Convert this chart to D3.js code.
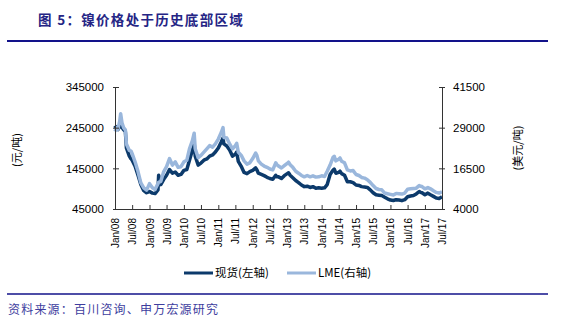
<!DOCTYPE html>
<html>
<head>
<meta charset="utf-8">
<script src="https://cdn.jsdelivr.net/npm/d3@7"></script>
<style>
  html, body { margin: 0; padding: 0; background: #fff; }
  svg { display: block; }
  .tick text { font-family: "Liberation Sans", Arial, sans-serif; fill: #000; }
</style>
</head>
<body>
<svg id="chart" width="571" height="332"></svg>
<script>
// Nickel: domestic spot price (CNY/t, left axis) and LME price (USD/t, right axis)
const dates = [
  "2008-01","2008-01-20","2008-02","2008-02-20","2008-03","2008-03-15","2008-04","2008-04-20","2008-05","2008-06",
  "2008-06-20","2008-07","2008-08","2008-09","2008-10","2008-11","2008-12","2009-01","2009-02","2009-03",
  "2009-04","2009-04-08","2009-05","2009-06","2009-07","2009-08","2009-09","2009-10","2009-11","2009-12",
  "2010-01","2010-02","2010-03","2010-04","2010-04-20","2010-05","2010-06","2010-07","2010-08","2010-09",
  "2010-10","2010-11","2010-12","2011-01","2011-02","2011-02-20","2011-03","2011-04","2011-05","2011-06",
  "2011-07","2011-07-15","2011-08","2011-09","2011-10","2011-11","2011-12","2012-01","2012-02","2012-02-15",
  "2012-03","2012-04","2012-05","2012-06","2012-07","2012-08","2012-09","2012-09-15","2012-10","2012-11",
  "2012-12","2013-01","2013-01-15","2013-02","2013-03","2013-04","2013-05","2013-06","2013-07","2013-08",
  "2013-09","2013-10","2013-11","2013-12","2014-01","2014-02","2014-03","2014-04","2014-05","2014-05-15",
  "2014-06","2014-07","2014-07-15","2014-08","2014-09","2014-10","2014-11","2014-12","2015-01","2015-02",
  "2015-03","2015-04","2015-05","2015-06","2015-07","2015-08","2015-09","2015-10","2015-11","2015-12",
  "2016-01","2016-02","2016-03","2016-04","2016-05","2016-06","2016-07","2016-08","2016-09","2016-10",
  "2016-11","2016-11-15","2016-12","2017-01","2017-02","2017-03","2017-04","2017-05","2017-06","2017-07"
];
const spotCny = [
  250000,242000,240000,248000,252000,246000,240000,235000,195000,175000,
  168000,165000,150000,128000,105000,90000,85000,88000,84000,83000,
  92000,128000,105000,118000,128000,142000,133000,136000,128000,130000,
  140000,142000,165000,190000,207000,175000,153000,158000,165000,168000,
  175000,178000,185000,195000,210000,220000,205000,200000,190000,175000,
  180000,185000,162000,150000,135000,132000,137000,140000,146000,141000,
  133000,130000,127000,123000,120000,118000,128000,124000,124000,120000,
  127000,132000,134000,128000,122000,115000,110000,104000,100000,101000,
  98000,100000,96000,97000,96000,97000,105000,130000,140000,143000,
  133000,135000,138000,132000,128000,112000,112000,110000,104000,103000,
  100000,99000,98000,92000,85000,80000,79000,78000,74000,70000,
  67000,66000,68000,67000,65500,68000,75000,77000,78000,82000,
  88000,86000,85000,80000,84000,80000,76000,72000,71000,75000
];
const lmeUsd = [
  27800,29000,28500,31000,33300,30500,29000,28300,24000,22000,
  21800,21000,18500,15500,12000,10500,9800,11800,10500,10000,
  11800,12200,12500,15500,17000,19500,17500,18500,16800,17000,
  18500,19000,22500,25000,27300,22500,19800,20500,21500,22500,
  23500,23000,24000,25500,27500,29000,26000,25800,24000,22500,
  23500,24200,21500,20500,18800,17800,18200,19500,21200,20400,
  18800,17800,17200,16800,16300,16000,18200,17600,17200,16600,
  17300,18000,18400,17600,16800,15600,15000,14300,13900,14300,
  13900,14200,13800,13900,14200,14000,15600,17500,19800,20200,
  18800,19300,19700,18700,18200,16000,15700,15800,14600,14300,
  13700,13500,13000,12200,11200,10300,10000,9900,8900,8700,
  8500,8300,8800,8700,8600,8900,10100,10200,10300,10400,
  11200,11000,10900,10200,10600,10200,9600,9100,8900,9300
];
const leftTicks = [45000, 145000, 245000, 345000];
const rightTicks = [4000, 16500, 29000, 41500];
const seriesNames = ["现货(左轴)", "LME(右轴)"];
const titleText = "图 5：镍价格处于历史底部区域";
const sourceText = "资料来源：百川咨询、申万宏源研究";
const leftAxisTitle = "(元/吨)";
const rightAxisTitle = "(美元/吨)";

const parseMonth = d3.utcParse("%Y-%m");
const parseDay = d3.utcParse("%Y-%m-%d");
const parseDate = s => s.length === 7 ? parseMonth(s) : parseDay(s);

const spotColor = "#0c3a6b";
const lmeColor = "#9ab7dc";
const navy = "#12128a";

const svg = d3.select("#chart");
const plot = { left: 115, right: 442, top: 87, bottom: 209 };

const x = d3.scaleUtc()
  .domain([parseMonth("2008-01"), parseMonth("2017-07")])
  .range([plot.left, plot.right]);
const yLeft = d3.scaleLinear().domain([45000, 345000]).range([plot.bottom, plot.top]);
const yRight = d3.scaleLinear().domain([4000, 41500]).range([plot.bottom, plot.top]);

// Title and rules
svg.append("text")
  .attr("x", 38).attr("y", 25)
  .attr("font-family", "'Noto Sans CJK SC', sans-serif")
  .attr("font-size", 13.5).attr("font-weight", "bold")
  .attr("letter-spacing", 1.3)
  .attr("fill", "#252585")
  .text(titleText);
svg.append("line").attr("x1", 7).attr("x2", 548).attr("y1", 41).attr("y2", 41)
  .attr("stroke", navy).attr("stroke-width", 2);
svg.append("line").attr("x1", 7).attr("x2", 548).attr("y1", 294).attr("y2", 294)
  .attr("stroke", navy).attr("stroke-width", 1.5);
svg.append("text")
  .attr("x", 8).attr("y", 314)
  .attr("font-family", "'Noto Sans CJK SC', sans-serif")
  .attr("font-size", 12).attr("letter-spacing", 1.2)
  .attr("fill", "#3d3d9e")
  .text(sourceText);

// Series lines
const points = dates.map((d, i) => ({ date: parseDate(d), spot: spotCny[i], lme: lmeUsd[i] }));
const spotLine = d3.line().x(d => x(d.date)).y(d => yLeft(d.spot));
const lmeLine = d3.line().x(d => x(d.date)).y(d => yRight(d.lme));

svg.append("path").datum(points).attr("d", spotLine)
  .attr("fill", "none").attr("stroke", spotColor).attr("stroke-width", 3.5)
  .attr("stroke-linejoin", "round");
svg.append("path").datum(points).attr("d", lmeLine)
  .attr("fill", "none").attr("stroke", lmeColor).attr("stroke-width", 3.5)
  .attr("stroke-linejoin", "round");

// Axes
const axisColor = "#333";
const gL = svg.append("g").attr("transform", `translate(${plot.left},0)`)
  .call(d3.axisLeft(yLeft).tickValues(leftTicks).tickFormat(d3.format("d")).tickSize(0).tickPadding(11));
gL.selectAll(".tick line").attr("x1", -2).attr("x2", 4).attr("stroke", axisColor);
gL.select(".domain").attr("stroke", axisColor);
gL.selectAll(".tick text").attr("font-size", 11.5);

const gR = svg.append("g").attr("transform", `translate(${plot.right},0)`)
  .call(d3.axisRight(yRight).tickValues(rightTicks).tickFormat(d3.format("d")).tickSize(0).tickPadding(11));
gR.selectAll(".tick line").attr("x1", -3).attr("x2", 3).attr("stroke", axisColor);
gR.select(".domain").attr("stroke", axisColor);
gR.selectAll(".tick text").attr("font-size", 11.5);

const gX = svg.append("g").attr("transform", `translate(0,${plot.bottom})`)
  .call(d3.axisBottom(x).ticks(d3.utcMonth.every(6)).tickFormat(d3.utcFormat("%b/%y")).tickSize(0));
gX.selectAll(".tick line").attr("y1", -4).attr("y2", 0).attr("stroke", axisColor);
gX.select(".domain").attr("stroke", axisColor);
gX.selectAll(".tick text")
  .attr("font-size", 10)
  .attr("transform", "rotate(-90)")
  .attr("text-anchor", "end")
  .attr("x", -9).attr("y", 0).attr("dy", "0.35em");

// Axis titles
svg.append("text")
  .attr("transform", "translate(21,150) rotate(-90)")
  .attr("text-anchor", "middle")
  .attr("font-family", "'Noto Sans CJK SC', sans-serif")
  .attr("font-size", 11).attr("fill", "#000")
  .text(leftAxisTitle);
svg.append("text")
  .attr("transform", "translate(522,148) rotate(-90)")
  .attr("text-anchor", "middle")
  .attr("font-family", "'Noto Sans CJK SC', sans-serif")
  .attr("font-size", 11).attr("fill", "#000")
  .text(rightAxisTitle);

// Legend
const legend = svg.append("g").attr("font-family", "'Noto Sans CJK SC', sans-serif").attr("font-size", 11.5);
[[184, spotColor, seriesNames[0]], [287, lmeColor, seriesNames[1]]].forEach(([lx, c, name]) => {
  legend.append("line").attr("x1", lx).attr("x2", lx + 29).attr("y1", 273).attr("y2", 273)
    .attr("stroke", c).attr("stroke-width", 3);
  legend.append("text").attr("x", lx + 31).attr("y", 273).attr("dy", "0.35em")
    .attr("fill", "#000").text(name);
});
</script>
</body>
</html>
